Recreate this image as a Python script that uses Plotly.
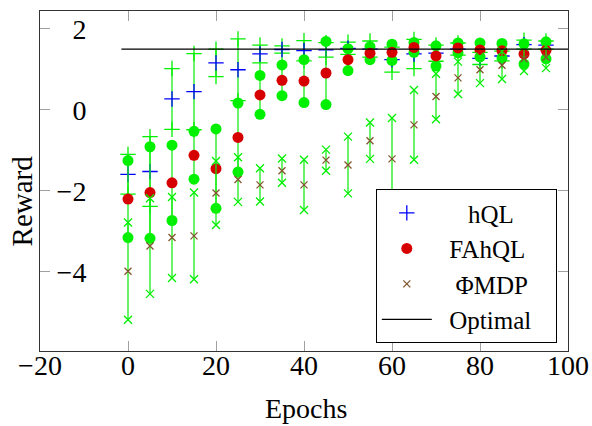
import plotly.graph_objects as go

# ---------------- data ----------------
epochs = [0, 5, 10, 15, 20, 25, 30, 35, 40, 45, 50, 55, 60, 65, 70, 75, 80, 85, 90, 95]

hql_mean = [-1.59, -1.52, 0.27, 0.45, 1.16, 0.99, 1.38, 1.49, 1.46, 1.48,
            1.52, 1.50, 1.24, 1.38, 1.40, 1.50, 1.27, 1.33, 1.61, 1.60]
hql_err = [0.49, 0.86, 0.75, 0.94, 0.34, 0.76, 0.22, 0.09, 0.25, 0.18,
           0.15, 0.20, 0.31, 0.36, 0.20, 0.15, 0.15, 0.12, 0.11, 0.10]

fahql_mean = [-2.20, -2.04, -1.80, -1.12, -1.45, -0.68, 0.37, 0.73, 0.71, 0.91,
              1.24, 1.40, 1.42, 1.54, 1.33, 1.53, 1.48, 1.46, 1.38, 1.47]
fahql_err = [0.95, 1.13, 0.93, 0.59, 0.98, 0.85, 0.48, 0.38, 0.53, 0.78,
             0.27, 0.16, 0.20, 0.12, 0.25, 0.12, 0.17, 0.18, 0.25, 0.21]

phimdp_mean = [-3.98, -3.36, -3.15, -3.11, -2.05, -1.72, -1.85, -1.50, -1.85, -1.24,
               -1.36, -0.76, -1.21, -0.37, 0.33, 0.79, 0.99, 1.10, 1.26, 1.30]
phimdp_err = [1.20, 1.18, 1.00, 1.07, 0.79, 0.55, 0.41, 0.30, 0.62, 0.26,
              0.70, 0.45, 1.01, 0.86, 0.56, 0.40, 0.33, 0.34, 0.30, 0.27]

optimal_x = [-1.5, 100]
optimal_y = [1.5, 1.5]

x_ticks = [-20, 0, 20, 40, 60, 80, 100]
y_ticks = [-4, -2, 0, 2]

legend_names = ["hQL", "FAhQL", "\u03a6MDP", "Optimal"]
x_title = "Epochs"
y_title = "Reward"

# ---------------- styles ----------------
FONT = "Liberation Serif"
ERR_LINE = "rgba(20,235,20,0.85)"
ERR_MARK = "rgb(0,240,0)"
NB = "\u00a0"
legend_pad = [(5, 0), (2, 0), (3, 0), (2, 3)]


def bar_xy(xs, means, errs):
    bx, by = [], []
    for x, m, e in zip(xs, means, errs):
        bx += [x, x, None]
        by += [m - e, m + e, None]
    return bx, by


def end_xy(xs, means, errs):
    ex, ey = [], []
    for x, m, e in zip(xs, means, errs):
        ex += [x, x]
        ey += [m - e, m + e]
    return ex, ey


def label(i):
    a, b = legend_pad[i]
    return NB * a + legend_names[i] + NB * b


fig = go.Figure()

series = [
    (0, hql_mean, hql_err, "cross-thin", 11, "rgb(0,0,255)", 11),
    (1, fahql_mean, fahql_err, "circle", 11, "rgb(215,0,0)", 11),
    (2, phimdp_mean, phimdp_err, "x-thin", 7, "rgb(130,85,45)", 8),
]

for idx, mean, err, sym, size, color, esize in series:
    bx, by = bar_xy(epochs, mean, err)
    fig.add_trace(go.Scatter(x=bx, y=by, mode="lines", showlegend=False,
                             line=dict(color=ERR_LINE, width=1.5), hoverinfo="skip"))
    ex, ey = end_xy(epochs, mean, err)
    if sym == "circle":
        emark = dict(symbol="circle", size=esize, color=ERR_MARK, line=dict(width=0))
        mmark = dict(symbol="circle", size=size, color=color, line=dict(width=0))
    else:
        emark = dict(symbol=sym, size=esize, color=ERR_MARK, line=dict(color=ERR_MARK, width=1.3))
        mmark = dict(symbol=sym, size=size, color=color, line=dict(color=color, width=1.3))
    fig.add_trace(go.Scatter(x=ex, y=ey, mode="markers", showlegend=False, marker=emark))
    fig.add_trace(go.Scatter(x=epochs, y=mean, mode="markers", name=label(idx), marker=mmark))

fig.add_trace(go.Scatter(x=optimal_x, y=optimal_y, mode="lines", name=label(3),
                         line=dict(color="black", width=1.2)))

axis_common = dict(
    showgrid=False, zeroline=False, ticks="inside", ticklen=10, tickwidth=1,
    tickcolor="#a0a0a0", showline=True, linecolor="#333", linewidth=1,
    mirror="ticks", automargin=False,
    tickfont=dict(family=FONT, size=28, color="black"),
)

fig.update_layout(
    width=592, height=426,
    margin=dict(l=40, r=24, t=11, b=75),
    paper_bgcolor="white", plot_bgcolor="white",
    font=dict(family=FONT, color="black"),
    xaxis=dict(range=[-20, 100], tickvals=x_ticks, ticklabelstandoff=-11,
               **axis_common),
    yaxis=dict(range=[-5.95, 2.44], tickvals=y_ticks, ticklabelstandoff=-53,
               **axis_common),
    legend=dict(x=0.636, y=0.476, xanchor="left", yanchor="top",
                bordercolor="black", borderwidth=1, bgcolor="white",
                itemwidth=50,
                font=dict(family=FONT, size=25), tracegroupgap=0),
    showlegend=True,
    annotations=[
        dict(text=y_title, xref="paper", yref="paper",
             x=-0.034, y=0.44, textangle=-90, showarrow=False,
             xanchor="center", yanchor="middle",
             font=dict(family=FONT, size=29, color="black")),
        dict(text=x_title, xref="paper", yref="paper",
             x=0.503, y=-0.168, showarrow=False,
             xanchor="center", yanchor="middle",
             font=dict(family=FONT, size=28, color="black")),
    ],
)

fig.write_html("out.html")
